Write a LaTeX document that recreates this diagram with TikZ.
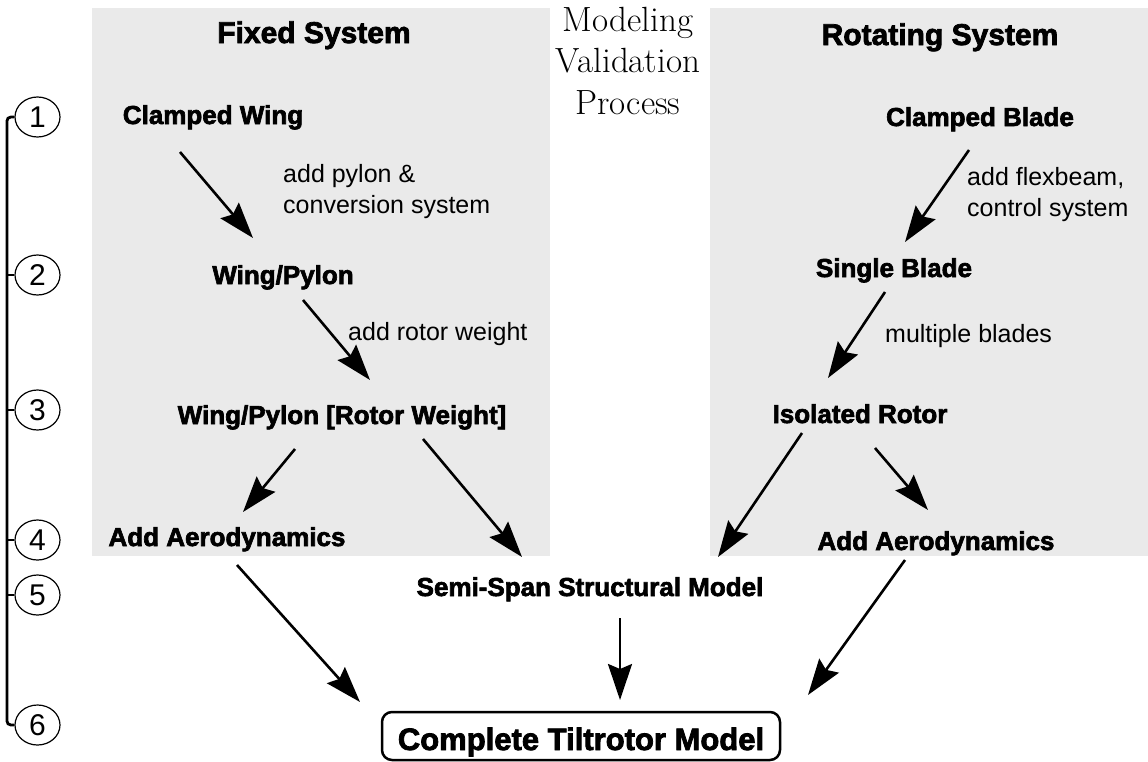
\documentclass[tikz,border=0pt]{standalone}
\usepackage{fontspec}
\newfontfamily\labelfont{Liberation Sans}
\newfontfamily\blockfont[FakeBold=2.5]{Liberation Sans Bold}
\usetikzlibrary{arrows.meta,shapes.geometric}

\definecolor{panel}{HTML}{EAEAEA}

\tikzset{
  heading/.style={font=\blockfont\fontsize{30}{34}\selectfont, anchor=base, inner sep=0pt},
  block/.style={font=\blockfont\fontsize{26}{30}\selectfont, anchor=base, inner sep=0pt},
  note/.style={font=\labelfont\fontsize{25}{31}\selectfont, align=left, inner sep=0pt},
  level/.style={ellipse, draw, line width=1.2pt, minimum width=45pt, minimum height=40pt,
    inner sep=0pt, font=\labelfont\fontsize{30}{30}\selectfont},
  arr/.style={line width=2.6pt, -{Stealth[length=36pt,width=24pt,inset=5pt]}},
}

\begin{document}
\begin{tikzpicture}[x=1pt,y=-1pt]
  \useasboundingbox (0,0) rectangle (1148,761);

  % panels
  \fill[panel] (92,8) rectangle (550,556);
  \fill[panel] (710,8) rectangle (1148,556);

  \node[heading] (fixed) at (314,43) {Fixed System};
  \node[heading] (rotating) at (940,45) {Rotating System};
  \node[anchor=north, align=center, inner sep=0pt, font=\fontsize{35}{41.5}\selectfont]
    (title) at (628,7) {Modeling\\Validation\\Process};

  % fixed system
  \node[block] (cw) at (213,124) {Clamped Wing};
  \node[block] (wp) at (283,284) {Wing/Pylon};
  \node[block] (wprw) at (342,424) {Wing/Pylon [Rotor Weight]};
  \node[block] (aal) at (227,546) {Add Aerodynamics};

  % rotating system
  \node[block] (cb) at (980,126) {Clamped Blade};
  \node[block] (sb) at (894,277) {Single Blade};
  \node[block] (ir) at (860,423) {Isolated Rotor};
  \node[block] (aar) at (936,550) {Add Aerodynamics};

  \node[block] (ssm) at (590,596) {Semi-Span Structural Model};
  \node[draw, line width=2.5pt, rounded corners=10pt, anchor=base, minimum width=398pt,
    text height=35pt, text depth=7pt, inner ysep=3pt,
    font=\blockfont\fontsize{31}{34}\selectfont] (ctm) at (581,750) {Complete Tiltrotor Model};

  % notes
  \node[note, anchor=north west] (n1) at (283,164) {add pylon \&\\conversion system};
  \node[note, anchor=north west] (n2) at (967,167) {add flexbeam,\\control system};
  \node[note, anchor=base west] (n3) at (348,340) {add rotor weight};
  \node[note, anchor=base west] (n4) at (885,342) {multiple blades};

  % arrow ends
  \coordinate (cw-o) at (180,152);  \coordinate (wp-i) at (253,238);
  \coordinate (wp-o) at (303,300);  \coordinate (wprw-i) at (370,380);
  \coordinate (wprw-a) at (295,449); \coordinate (aal-i) at (243,512);
  \coordinate (wprw-b) at (423,439); \coordinate (ssm-a) at (522,557);
  \coordinate (cb-o) at (969,150);  \coordinate (sb-i) at (905,242);
  \coordinate (sb-o) at (885,292);  \coordinate (ir-i) at (828,378);
  \coordinate (ir-a) at (802,433);  \coordinate (ssm-b) at (718,557);
  \coordinate (ir-b) at (875,448);  \coordinate (aar-i) at (928,510);
  \coordinate (aal-o) at (237,565); \coordinate (ctm-a) at (360,702);
  \coordinate (ssm-o) at (620,618); \coordinate (ctm-b) at (620,700);
  \coordinate (aar-o) at (905,560); \coordinate (ctm-c) at (808,695);

  \foreach \from/\to in {cw-o/wp-i,wp-o/wprw-i,wprw-a/aal-i,wprw-b/ssm-a,
      cb-o/sb-i,sb-o/ir-i,ir-a/ssm-b,ir-b/aar-i,aal-o/ctm-a,ssm-o/ctm-b,aar-o/ctm-c}
    \draw[arr] (\from) -- (\to);

  % levels
  \foreach \n/\y in {1/117,2/275,3/410,4/540,5/595,6/725}
    \node[level] (lv\n) at (37.5,\y) {\n};
  \draw[line width=2.8pt, rounded corners=4pt] (lv1.west) -- ++(-7.5,0) |- (lv6.west);
  \foreach \n in {2,...,5}
    \draw[line width=2.8pt] (lv\n.west) -- ++(-7.5,0);
\end{tikzpicture}
\end{document}
